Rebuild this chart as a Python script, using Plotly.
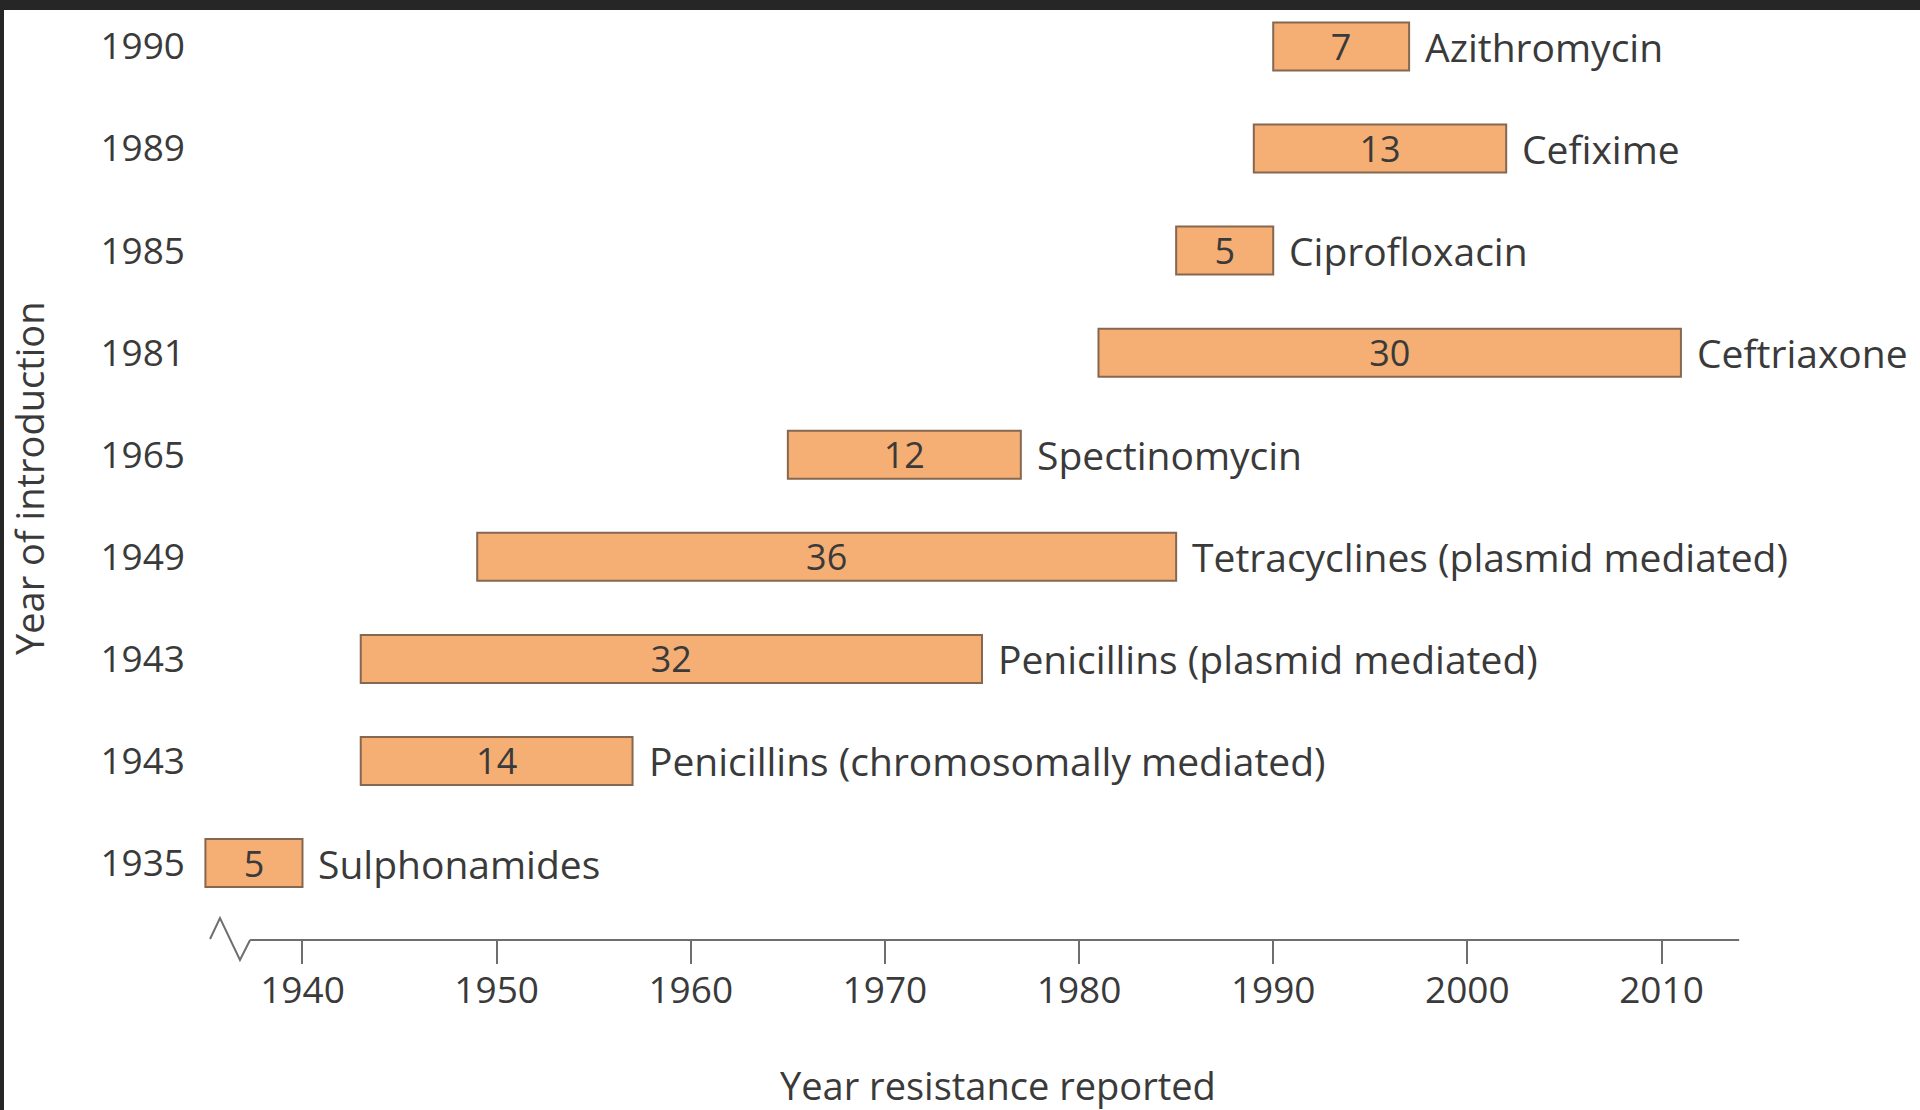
import plotly.graph_objects as go

# ---- data ----
drugs = ["Sulphonamides", "Penicillins (chromosomally mediated)", "Penicillins (plasmid mediated)",
         "Tetracyclines (plasmid mediated)", "Spectinomycin", "Ceftriaxone",
         "Ciprofloxacin", "Cefixime", "Azithromycin"]
intro_year = [1935, 1943, 1943, 1949, 1965, 1981, 1985, 1989, 1990]
years_to_resistance = [5, 14, 32, 36, 12, 30, 5, 13, 7]
x_ticks = [1940, 1950, 1960, 1970, 1980, 1990, 2000, 2010]

FONT = "Open Sans"
TXT = "#3a3a3a"
AX = "#6e6e6e"

rows = list(range(len(drugs)))
end_year = [a + b for a, b in zip(intro_year, years_to_resistance)]

fig = go.Figure()
fig.add_trace(go.Bar(
    y=rows, x=years_to_resistance, base=intro_year, orientation="h",
    width=0.47,
    marker=dict(color="#F5AE74", line=dict(color="#86674F", width=2)),
    text=[str(v) for v in years_to_resistance], textposition="inside",
    insidetextanchor="middle", constraintext="none", textangle=0,
    textfont=dict(family=FONT, size=36, color=TXT),
    cliponaxis=False, hoverinfo="skip",
))

annotations = []
for r, e, name in zip(rows, end_year, drugs):
    annotations.append(dict(x=e, y=r, xref="x", yref="y", text=name, showarrow=False,
                            xanchor="left", yanchor="middle", xshift=14,
                            font=dict(family=FONT, size=39, color=TXT)))

annotations.append(dict(x=(29 - 186) / 1592, y=(940 - 478) / 940, xref="paper", yref="paper",
                        text="Year of introduction", textangle=-90, showarrow=False,
                        xanchor="center", yanchor="middle",
                        font=dict(family=FONT, size=38, color=TXT)))
annotations.append(dict(x=(998 - 186) / 1592, y=(940 - 1085) / 940, xref="paper", yref="paper",
                        text="Year resistance reported", showarrow=False,
                        xanchor="center", yanchor="middle",
                        font=dict(family=FONT, size=38, color=TXT)))

shapes = [
    # axis line after the break
    dict(type="line", xref="x", yref="paper", x0=1937.3, x1=2014, y0=0, y1=0,
         line=dict(color=AX, width=2)),
    # axis break zigzag
    dict(type="path", xref="x", yref="paper", ysizemode="pixel", yanchor=0,
         path="M 1935.24,1 L 1935.75,22 L 1936.78,-20 L 1937.3,0",
         line=dict(color=AX, width=2)),
    # dark frame strips of the screenshot
    dict(type="rect", xref="paper", yref="paper", x0=-0.2, x1=1.2, y0=(940 - 10) / 940, y1=1.2,
         fillcolor="#262626", line=dict(width=0), layer="above"),
    dict(type="rect", xref="paper", yref="paper", x0=-0.2, x1=(4 - 186) / 1592, y0=-0.3, y1=1.2,
         fillcolor="#262626", line=dict(width=0), layer="above"),
]

fig.update_layout(
    width=1920, height=1110,
    margin=dict(l=186, r=142, t=0, b=170),
    paper_bgcolor="white", plot_bgcolor="white",
    showlegend=False,
    xaxis=dict(range=[1934, 2016], tickvals=x_ticks, ticktext=[str(t) for t in x_ticks],
               ticks="outside", ticklen=23, tickwidth=2, tickcolor=AX,
               ticklabelstandoff=-5,
               showline=False, showgrid=False, zeroline=False,
               tickfont=dict(family=FONT, size=37, color=TXT)),
    yaxis=dict(range=[-0.754, 8.455], tickvals=rows, ticktext=[str(y) for y in intro_year],
               ticks="", showline=False, showgrid=False, zeroline=False,
               tickfont=dict(family=FONT, size=37, color=TXT)),
    annotations=annotations, shapes=shapes,
)

fig.write_html("out.html", config={"displayModeBar": False},
               post_script="document.body.style.margin='0';")
